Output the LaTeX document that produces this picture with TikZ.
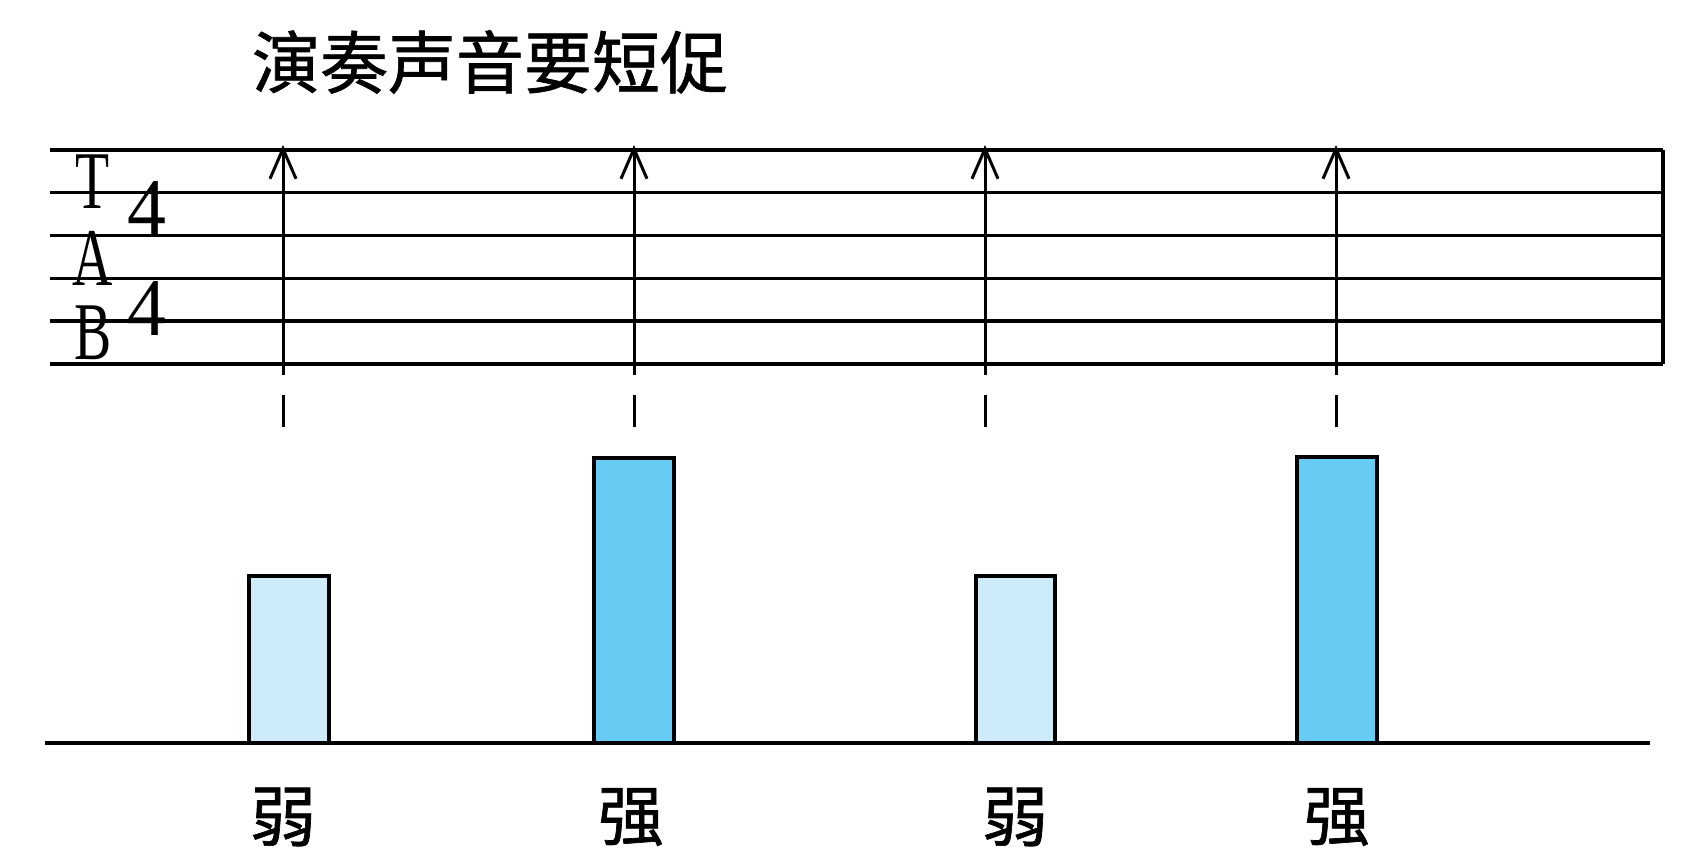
\documentclass[tikz,border=0pt]{standalone}
\usepackage{fontspec}
\setmainfont{Liberation Serif}
\newfontfamily\cjk[FakeBold=1]{Noto Sans CJK SC}
\usetikzlibrary{arrows.meta}
\definecolor{weakblue}{RGB}{205,235,248}
\definecolor{strongblue}{RGB}{102,204,243}
\newcommand{\tabglyph}[2][0.68]{\scalebox{#1}[1]{#2}}

\begin{document}
\begin{tikzpicture}[x=0.5pt, y=-0.5pt,
	staffline/.style={line width=1.7pt},
	strum/.style={line width=1.5pt, -{Straight Barb[length=15pt, width=13pt, line width=1.5pt]}},
	tickmark/.style={line width=1.5pt},
	bar/.style={line width=1.6pt, draw=black},
	tabtext/.style={inner sep=0pt, font=\fontsize{41}{41}\selectfont},
	cjktext/.style={inner sep=0pt, font=\cjk\fontsize{33}{40}\selectfont}]
			%%%%% START %%%%%
			\useasboundingbox (0, 0) rectangle (1693, 865);
			
			\node[cjktext, font=\cjk\fontsize{34}{40}\selectfont] (title) at (490, 62) {演奏声音要短促};
			
			% staff
			\foreach \k in {0,...,5}
				\draw[staffline] (50, 150+42.8*\k) -- (1663, 150+42.8*\k);
			\draw[staffline] (1663, 150) -- (1663, 364);
			
			\node[tabtext] (tabT) at (93, 182) {\tabglyph{T}};
			\node[tabtext] (tabA) at (93, 258) {\tabglyph{A}};
			\node[tabtext] (tabB) at (93, 333) {\tabglyph{B}};
			\node[tabtext] (upper) at (147, 209) {\tabglyph[0.95]{4}};
			\node[tabtext] (lower) at (147, 309) {\tabglyph[0.95]{4}};
			
			% strokes
			\foreach \x in {283, 634, 985, 1336} {
				\draw[strum] (\x, 375) -- (\x, 145);
				\draw[tickmark] (\x, 395) -- (\x, 427);
			}
			
			% bars
			\draw[bar, fill=weakblue] (249, 743) rectangle (329, 576);
			\draw[bar, fill=strongblue] (594, 743) rectangle (674, 458);
			\draw[bar, fill=weakblue] (976, 743) rectangle (1055, 576);
			\draw[bar, fill=strongblue] (1297, 743) rectangle (1377, 457);
			\draw[staffline] (45, 743) -- (1650, 743);
			
			\node[cjktext] (weak1) at (283, 817) {弱};
			\node[cjktext] (strong1) at (631, 817) {强};
			\node[cjktext] (weak2) at (1015, 817) {弱};
			\node[cjktext] (strong2) at (1337, 817) {强};
			%%%%% END %%%%%
\end{tikzpicture}
\end{document}
